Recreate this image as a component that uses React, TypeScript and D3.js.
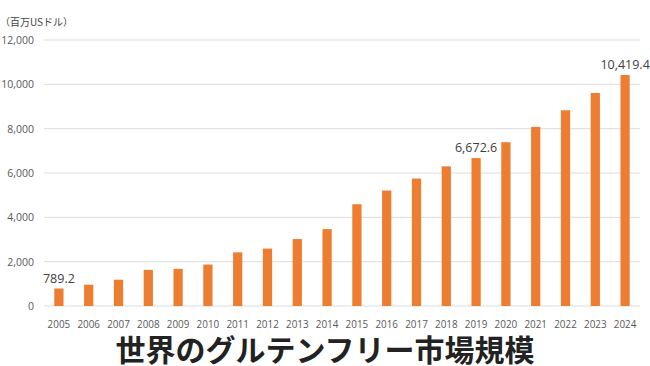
import React from "react";
import * as d3 from "d3";

const years = ["2005","2006","2007","2008","2009","2010","2011","2012","2013","2014","2015","2016","2017","2018","2019","2020","2021","2022","2023","2024"];
const values = [789.2, 960, 1185, 1630, 1675, 1870, 2420, 2590, 3020, 3470, 4590, 5210, 5750, 6300, 6672.6, 7390, 8080, 8830, 9610, 10419.4];
const yTicks = [0, 2000, 4000, 6000, 8000, 10000, 12000];
const labeledYears = ["2005", "2019", "2024"];
const unitLabel = "（百万USドル）";
const title = "世界のグルテンフリー市場規模";

export default function App() {
  const W = 650, H = 366;
  const left = 44, right = 640, top = 40, bottom = 306;
  const x = d3.scaleBand<string>().domain(years).range([left, right]).paddingInner(0.69).paddingOuter(0.345);
  const y = d3.scaleLinear().domain([0, 12000]).range([bottom, top]);
  const fmt = d3.format(",");
  const fmtL = d3.format(",.1f");
  const font = "'Open Sans', 'Noto Sans', sans-serif";
  return (
    <svg width={W} height={H} style={{ position: "absolute", left: 0, top: 0, background: "#fff" }} fontFamily={font}>
      <text x={0} y={26} fontSize={10} fill="#444" fontFamily="'Noto Sans CJK JP', sans-serif">{unitLabel}</text>
      {yTicks.map(t => (
        <g key={t}>
          <line x1={left} x2={right} y1={y(t)} y2={y(t)} stroke="#dcdcdc" strokeWidth={1} />
          <text x={34} y={y(t) + 4} textAnchor="end" fontSize={10.5} fill="#595959">{fmt(t)}</text>
        </g>
      ))}
      {years.map((yr, i) => (
        <rect key={yr} x={x(yr)} y={y(values[i])} width={x.bandwidth()} height={y(0) - y(values[i])} fill="#ED7D31" />
      ))}
      {years.map(yr => (
        <text key={yr} x={(x(yr) as number) + x.bandwidth() / 2} y={328} textAnchor="middle" fontSize={9.9} fill="#595959">{yr}</text>
      ))}
      {labeledYears.map(yr => {
        const v = values[years.indexOf(yr)];
        return (
          <text key={yr} x={(x(yr) as number) + x.bandwidth() / 2} y={y(v) - 6} textAnchor="middle" fontSize={12.5} fill="#404040">{fmtL(v)}</text>
        );
      })}
      <text x={325} y={361} textAnchor="middle" fontSize={30} fontWeight="bold" fill="#222" fontFamily="'Noto Sans CJK JP', sans-serif">{title}</text>
    </svg>
  );
}
